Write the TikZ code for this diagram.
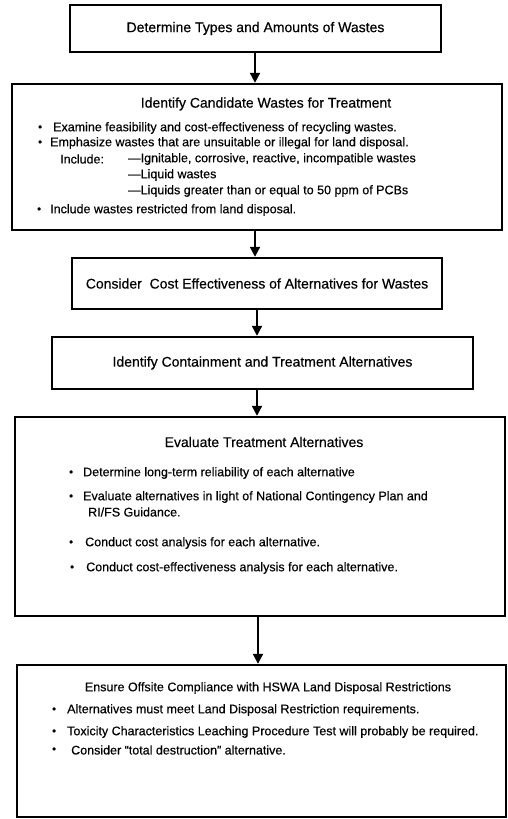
\documentclass[tikz,border=0pt]{standalone}
\usepackage{fontspec}
\setmainfont{Liberation Sans}[FakeBold=0.4]
\usetikzlibrary{arrows.meta}
\tikzset{
  box/.style={draw, line width=2.4pt, inner sep=0pt},
  flow/.style={line width=2pt, -{Triangle[length=10pt,width=10pt]}},
  head/.style={font=\fontsize{14}{16}\selectfont},
  txt/.style={anchor=west, inner sep=0pt, font=\fontsize{12.5}{14}\selectfont},
  dot/.style={anchor=west, inner sep=0pt, font=\fontsize{11}{13}\selectfont}
}
\begin{document}
\begin{tikzpicture}[x=1pt,y=-1pt]
\useasboundingbox (0,0) rectangle (507,819);
% boxes
\node[box, minimum width=371pt, minimum height=47pt] (b1) at (255.5,28.5) {};
\node[box, minimum width=490pt, minimum height=146pt] (b2) at (257,157) {};
\node[box, minimum width=370pt, minimum height=51pt] (b3) at (257,283.5) {};
\node[box, minimum width=421pt, minimum height=52pt] (b4) at (262.5,363) {};
\node[box, minimum width=490pt, minimum height=199pt] (b5) at (260,516.5) {};
\node[box, minimum width=489pt, minimum height=152pt] (b6) at (261.5,741) {};
% arrows
\coordinate (a1) at (255,0);\coordinate (a3) at (257,0);\coordinate (a5) at (258,0);
\draw[flow] (a1 |- b1.south) -- (a1 |- b2.north);
\draw[flow] (a1 |- b2.south) -- (a1 |- b3.north);
\draw[flow] (a3 |- b3.south) -- (a3 |- b4.north);
\draw[flow] (a3 |- b4.south) -- (a3 |- b5.north);
\draw[flow] (a5 |- b5.south) -- (a5 |- b6.north);
% box 1
\node[head] (t1) at (b1) {Determine Types and Amounts of Wastes};
% box 2
\node[head] (t2) at (266,104) {Identify Candidate Wastes for Treatment};
\node[dot] (d21) at (38,128) {•};\node[txt] (l21) at (53,128) {Examine feasibility and cost-effectiveness of recycling wastes.};
\node[dot] (d22) at (38,143) {•};\node[txt] (l22) at (50,143) {Emphasize wastes that are unsuitable or illegal for land disposal.};
\node[txt] (inc) at (60,159) {Include:};
\node[txt] (l23) at (128,159) {---Ignitable, corrosive, reactive, incompatible wastes};
\node[txt] (l24) at (128,175) {---Liquid wastes};
\node[txt] (l25) at (128,191) {---Liquids greater than or equal to 50 ppm of PCBs};
\node[dot] (d26) at (37,210) {•};\node[txt] (l26) at (50,210) {Include wastes restricted from land disposal.};
% box 3, 4
\node[head] (t3) at (b3) {Consider\ \ Cost Effectiveness of Alternatives for Wastes};
\node[head] (t4) at (b4) {Identify Containment and Treatment Alternatives};
% box 5
\node[head] (t5) at (264,442) {Evaluate Treatment Alternatives};
\node[dot] (d51) at (69,473) {•};\node[txt] (l51) at (83,473) {Determine long-term reliability of each alternative};
\node[dot] (d52) at (69,497) {•};\node[txt] (l52) at (83,497) {Evaluate alternatives in light of National Contingency Plan and};
\node[txt] (l53) at (88,512) {RI/FS Guidance.};
\node[dot] (d54) at (69,543) {•};\node[txt] (l54) at (85,543) {Conduct cost analysis for each alternative.};
\node[dot] (d55) at (70,568) {•};\node[txt] (l55) at (86,568) {Conduct cost-effectiveness analysis for each alternative.};
% box 6
\node[txt, anchor=center] (t6) at (268,688) {Ensure Offsite Compliance with HSWA Land Disposal Restrictions};
\node[dot] (d61) at (52,710) {•};\node[txt] (l61) at (67,710) {Alternatives must meet Land Disposal Restriction requirements.};
\node[dot] (d62) at (52,732) {•};\node[txt] (l62) at (67,732) {Toxicity Characteristics Leaching Procedure Test will probably be required.};
\node[dot] (d63) at (52,750) {•};\node[txt] (l63) at (71,750) {Consider “total destruction” alternative.};
\end{tikzpicture}
\end{document}
